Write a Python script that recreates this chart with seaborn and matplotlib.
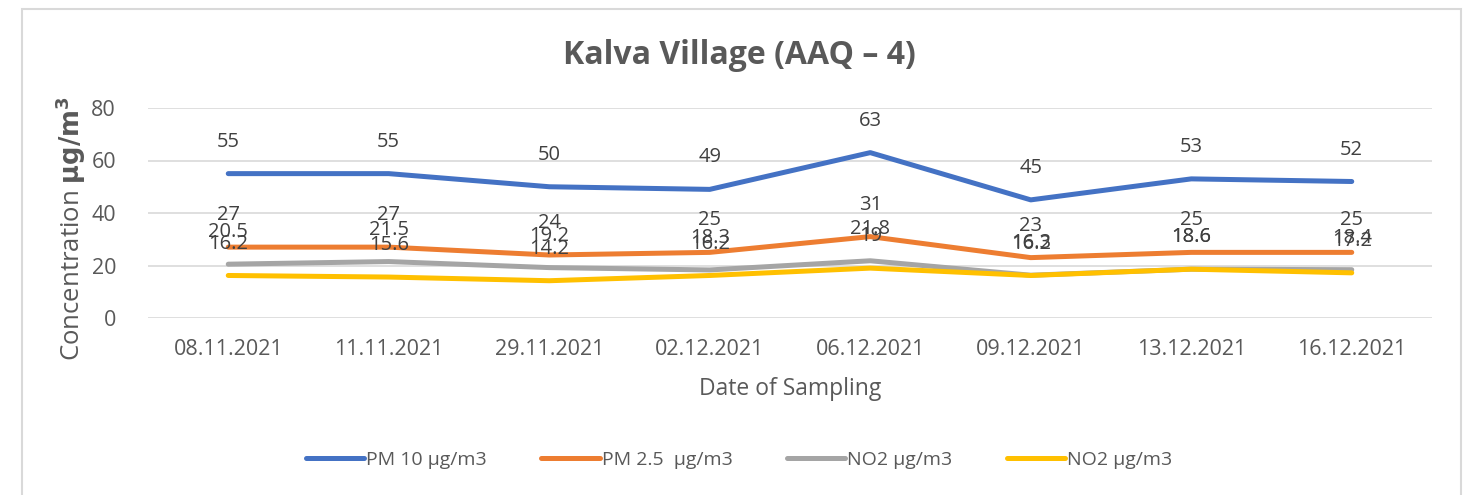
import numpy as np
import pandas as pd
import seaborn as sns
import matplotlib.pyplot as plt
from matplotlib.patches import Rectangle

dates = ['08.11.2021', '11.11.2021', '29.11.2021', '02.12.2021',
         '06.12.2021', '09.12.2021', '13.12.2021', '16.12.2021']
pm10 = [55, 55, 50, 49, 63, 45, 53, 52]
pm25 = [27, 27, 24, 25, 31, 23, 25, 25]
no2_a = [20.5, 21.5, 19.2, 18.3, 21.8, 16.3, 18.6, 18.4]
no2_b = [16.2, 15.6, 14.2, 16.2, 19, 16.2, 18.6, 17.2]

series_names = ['PM 10 µg/m3', 'PM 2.5  µg/m3', 'NO2 µg/m3', 'NO2 µg/m3']
series_vals = [pm10, pm25, no2_a, no2_b]
colors = ['#4472C4', '#ED7D31', '#A5A5A5', '#FFC000']

sns.set_theme(style='white')
plt.rcParams['font.family'] = ['Open Sans', 'DejaVu Sans']
text_c = '#595959'

fig = plt.figure(figsize=(14.78, 4.95), dpi=100)
ax = fig.add_axes([148 / 1478, 1 - 318 / 495, (1432 - 148) / 1478, (318 - 108) / 495])

x = np.arange(len(dates))
for name, vals, c in zip(series_names, series_vals, colors):
    df = pd.DataFrame({'x': x, 'y': vals})
    sns.lineplot(data=df, x='x', y='y', ax=ax, color=c, linewidth=3.6,
                 label=name, solid_capstyle='round')
    for xi, v in zip(x, vals):
        ax.annotate(f'{v:g}', (xi, v), xytext=(0, 23), textcoords='offset points',
                    ha='center', va='center', fontsize=14.5, color='#404040')

ax.set_xlim(-0.5, len(dates) - 0.5)
ax.set_ylim(0, 80)
ax.set_yticks([0, 20, 40, 60, 80])
ax.set_xticks(x)
ax.set_xticklabels(dates)
ax.tick_params(axis='both', labelsize=15.5, colors=text_c, length=0)
ax.tick_params(axis='x', pad=15)
ax.tick_params(axis='y', pad=23)
ax.grid(axis='y', color='#D9D9D9', linewidth=1.2)
for s in ax.spines.values():
    s.set_visible(False)

ax.set_xlabel('Date of Sampling', fontsize=16.5, color=text_c)
ax.xaxis.set_label_coords(0.5, (318 - 377) / 210)
ax.set_ylabel(r'Concentration $\mathbf{\mu g/m^3}$', fontsize=18.5, color=text_c)
ax.yaxis.set_label_coords((88 - 148) / 1284, (318 - 229) / 210)

fig.text(0.5, 1 - 55 / 495, 'Kalva Village (AAQ – 4)', ha='center', va='center',
         fontsize=23, fontweight='bold', color=text_c)

ax.get_legend().remove()
handles, labels = ax.get_legend_handles_labels()
fig.legend(handles, labels, loc='center', bbox_to_anchor=(0.5, 1 - 460 / 495), ncol=4,
           frameon=False, fontsize=14, labelcolor=text_c, handlelength=3.0,
           handletextpad=0.1, columnspacing=2.8)

fig.patches.append(Rectangle((22 / 1478, -0.05), (1461 - 22) / 1478, 1.05 - 9 / 495,
                             transform=fig.transFigure, fill=False,
                             edgecolor='#D9D9D9', linewidth=1.5))

fig.savefig('out.png', dpi=100)
